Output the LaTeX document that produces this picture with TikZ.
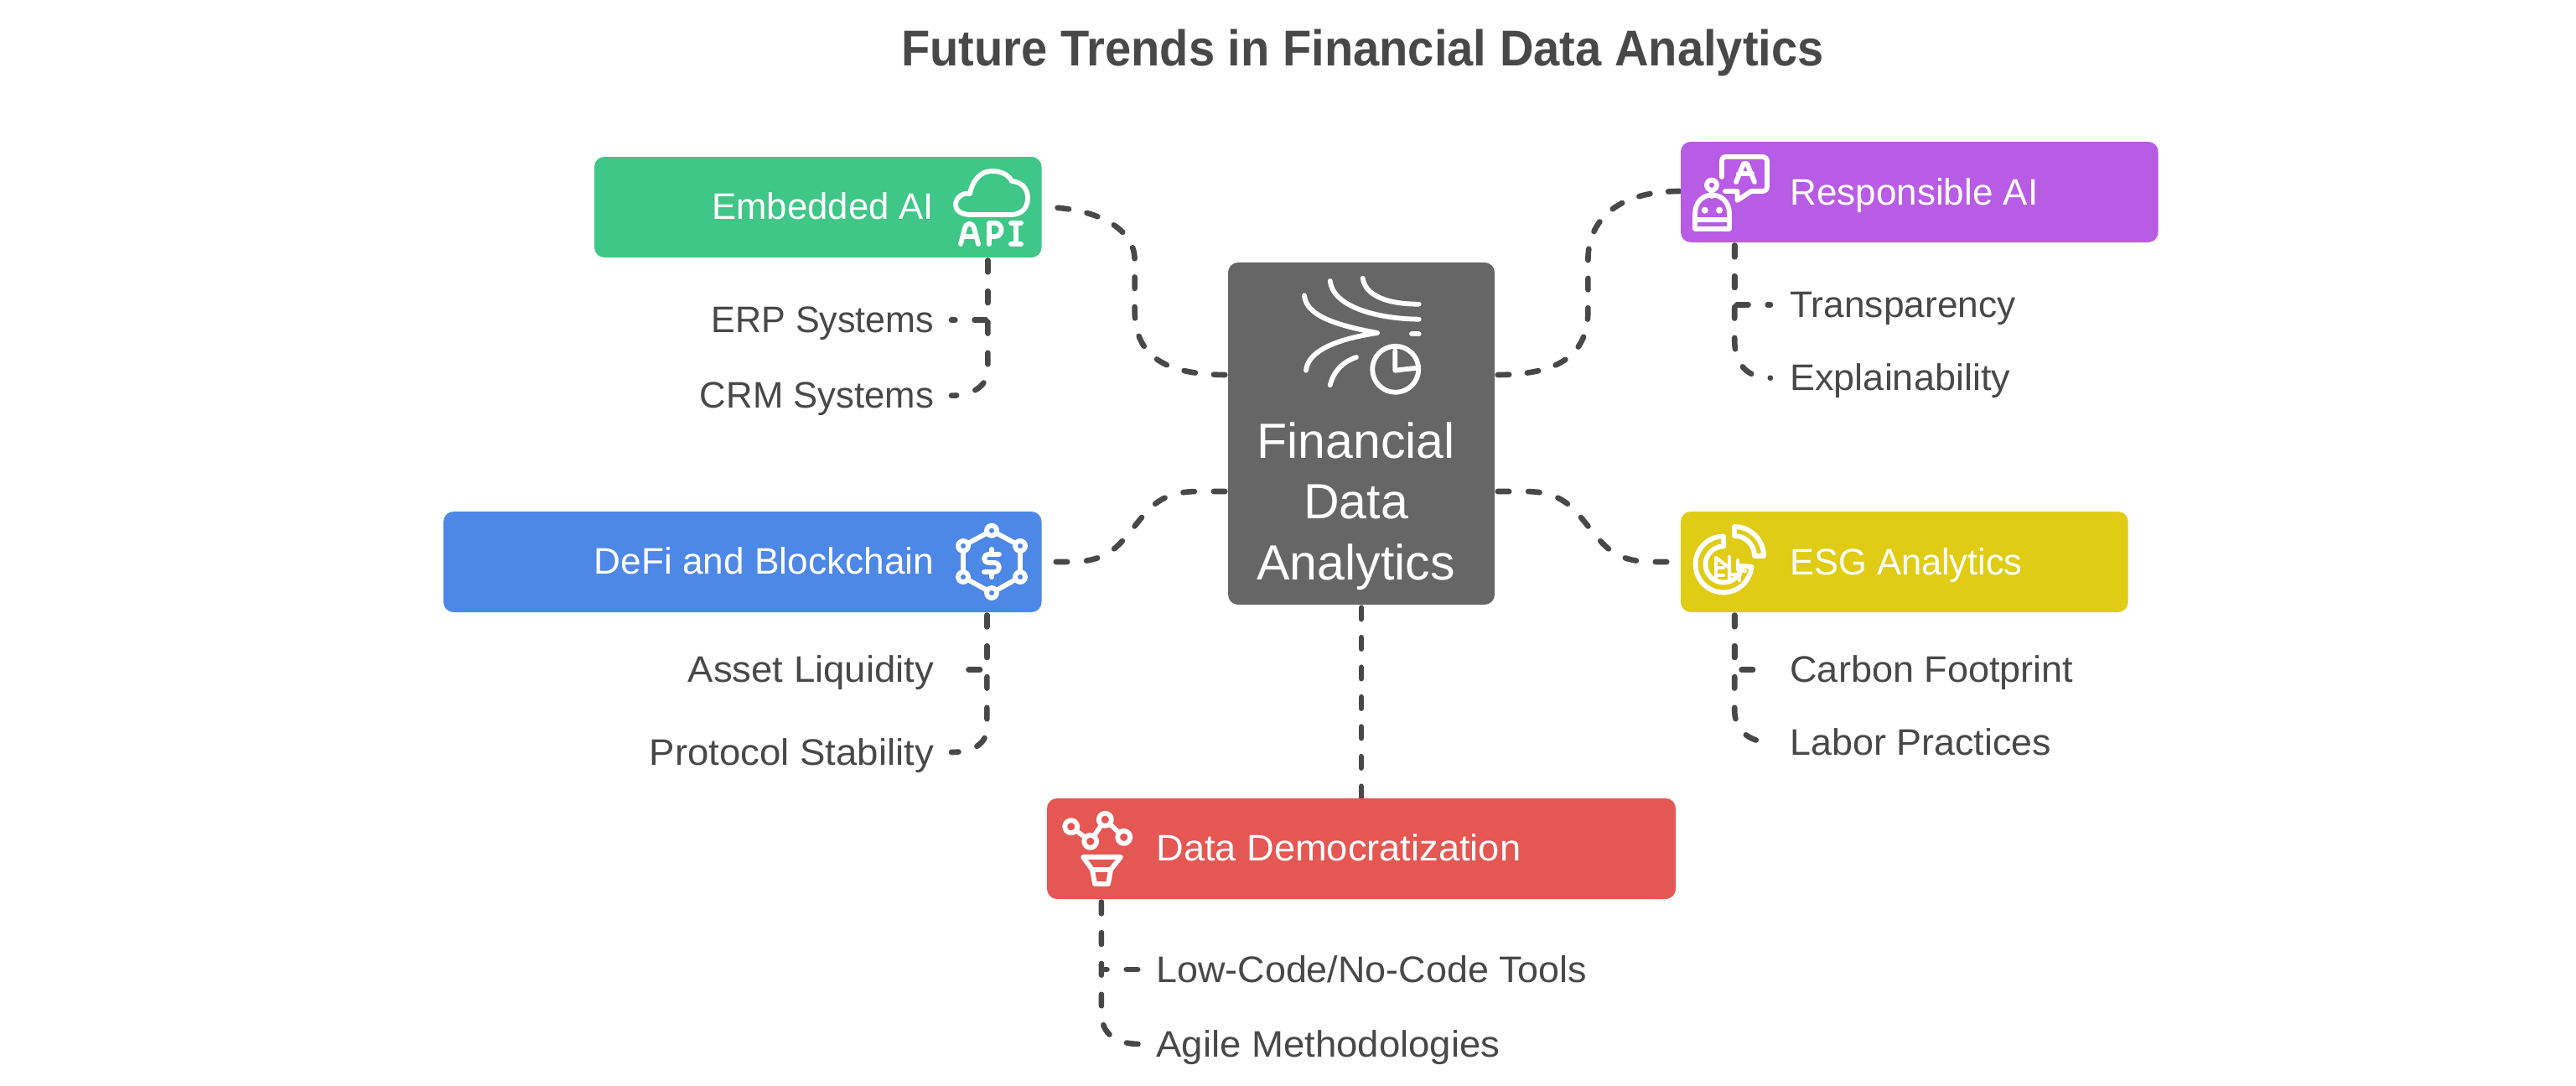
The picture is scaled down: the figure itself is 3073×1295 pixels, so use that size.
\documentclass[tikz,border=0pt]{standalone}
\usepackage{fontspec}
\setmainfont{Liberation Sans}
\newfontfamily\titlefont[FakeStretch=0.935]{Liberation Sans}
\usetikzlibrary{calc}
\pgfdeclarelayer{under}
\pgfsetlayers{under,main}
\newcommand\sx[2]{\scalebox{#1}[1]{#2}}
\definecolor{ink}{HTML}{484848}
\definecolor{cgreen}{HTML}{3EC786}
\definecolor{cblue}{HTML}{4E88E7}
\definecolor{cred}{HTML}{E55753}
\definecolor{cyellow}{HTML}{E0CC15}
\definecolor{cpurple}{HTML}{B95CE5}
\definecolor{cgray}{HTML}{666666}
\tikzset{
  bx/.style={rectangle,rounded corners=6pt,inner sep=0pt,fill=#1,minimum height=60pt},
  lab/.style={inner sep=0pt,text=white,font=\fontsize{22}{26}\selectfont},
  sub/.style={inner sep=0pt,text=ink,font=\fontsize{22}{26}\selectfont},
  big/.style={inner sep=0pt,text=white,font=\fontsize{29.5}{34}\selectfont},
  conn/.style 2 args={draw=ink,line width=3.3pt,line cap=round,dash pattern=on 6.75pt off #1pt,dash phase=#2pt},
  ico/.style={draw=white,line width=2.9pt,line cap=round,line join=round},
}
\begin{document}
\begin{tikzpicture}[x=0.5pt,y=-0.5pt]
\useasboundingbox (0,0) rectangle (3073,1295);
\begin{pgfonlayer}{under}
\fill[white] (0,0) rectangle (3073,1295);
\end{pgfonlayer}
\node[bx=cgray,minimum width=159pt,minimum height=204pt] (center) at (1624,517) {};
\node[bx=cgreen,minimum width=266.75pt] (embedded) at (975.75,247) {};
\node[bx=cblue,minimum width=356.75pt] (defi) at (885.75,670) {};
\node[bx=cpurple,minimum width=284.75pt] (responsible) at (2289.75,229) {};
\node[bx=cyellow,minimum width=266.8pt] (esg) at (2271.8,670) {};
\node[bx=cred,minimum width=375pt] (data) at (1624,1012) {};
\node[inner sep=0pt,text=ink,font=\fontsize{30}{34}\selectfont\titlefont\bfseries,anchor=base] (title) at (1625.5,79) {Future Trends in Financial Data Analytics};
\node[big,anchor=base] (t1) at (1617.5,546.7) {Financial};
\node[big,anchor=base] (t2) at (1617.5,618.5) {Data};
\node[big,anchor=base] (t3) at (1617.5,691) {Analytics};
\node[lab,anchor=base east] (lemb) at (1114.5,261.7) {\sx{.993}{Embedded AI}};
\node[lab,anchor=base east] (ldefi) at (1114.5,684) {\sx{1.005}{DeFi and Blockchain}};
\node[lab,anchor=base west] (lresp) at (2135,244) {Responsible AI};
\node[lab,anchor=base west] (lesg) at (2135,685) {\sx{.986}{ESG Analytics}};
\node[lab,anchor=base west] (ldata) at (1379,1026.7) {\sx{1.028}{Data Democratization}};
\node[sub,anchor=base east] (erp) at (1114.5,396.7) {\sx{.978}{ERP Systems}};
\node[sub,anchor=base east] (crm) at (1114.5,486.7) {\sx{.993}{CRM Systems}};
\node[sub,anchor=base east] (asset) at (1114.5,813.7) {\sx{1.034}{Asset Liquidity}};
\node[sub,anchor=base east] (proto) at (1114.5,912) {\sx{1.036}{Protocol Stability}};
\node[sub,anchor=base west] (transp) at (2135,378.3) {\sx{1.007}{Transparency}};
\node[sub,anchor=base west] (expl) at (2135,465.7) {\sx{1.023}{Explainability}};
\node[sub,anchor=base west] (carbon) at (2135,813.7) {\sx{1.024}{Carbon Footprint}};
\node[sub,anchor=base west] (labor) at (2135,900) {\sx{1.019}{Labor Practices}};
\node[sub,anchor=base west] (lowc) at (1379,1171) {\sx{1.02}{Low-Code/No-Code Tools}};
\node[sub,anchor=base west] (agile) at (1379,1260) {\sx{1.035}{Agile Methodologies}};
\begin{pgfonlayer}{under}
% main connectors
\draw[conn={11}{16.1}] ($(center.west)+(0,-70)$) .. controls +(-67,0) and +(0,60) .. ++(-111,-77) -- ++(0,-60) .. controls +(0,-40) and +(60,0) .. (embedded.east);
\draw[conn={11.45}{16.55}] ($(center.west)+(0,69)$) -- ++(-35,0) .. controls +(-45,0) and +(18.5,-23) .. ++(-76.5,42) .. controls +(-18.5,23) and +(45,0) .. ++(-76.5,42) -- (defi.east);
\draw[conn={10.85}{15.95}] ($(center.east)+(0,-70)$) .. controls +(67,0) and +(0,60) .. ++(111,-77) -- ++(0,-60) .. controls +(0,-48) and +(-75,0) .. ($(responsible.west)+(0,-1)$);
\draw[conn={11.45}{16.55}] ($(center.east)+(0,69)$) -- ++(35,0) .. controls +(45,0) and +(-18.5,-23) .. ++(76.5,42) .. controls +(18.5,23) and +(-45,0) .. ++(76.5,42) -- (esg.west);
\draw[conn={11}{16.1}] (center.south) -- (data.north);
% branches
\draw[conn={11.6}{16.7}] ($(embedded.south east)+(-64.5,0)$) |- ($(erp.base east)+(20.5,-15)$);
\draw[conn={11.6}{16.7}] ($(embedded.south east)+(-64.5,0)$) -- ++(0,133) .. controls +(0,20) and +(25,0) .. ($(crm.base east)+(20.5,-15)$);
\draw[conn={11.6}{16.7}] ($(defi.south east)+(-65.5,0)$) |- ($(asset.base east)+(20.5,-15)$);
\draw[conn={11.6}{16.7}] ($(defi.south east)+(-65.5,0)$) -- ++(0,137) .. controls +(0,20) and +(25,0) .. ($(proto.base east)+(20.5,-15)$);
\draw[conn={11.6}{16.7}] ($(responsible.south west)+(64.6,0)$) |- ($(transp.base west)+(-23,-15)$);
\draw[conn={11.6}{16.7}] ($(responsible.south west)+(64.6,0)$) -- ++(0,116) .. controls +(0,30) and +(-27,0) .. ($(expl.base west)+(-23,-15)$);
\draw[conn={11.6}{16.7}] ($(esg.south west)+(64.6,0)$) |- ($(carbon.base west)+(-23,-15)$);
\draw[conn={11.6}{16.7}] ($(esg.south west)+(64.6,0)$) -- ++(0,116) .. controls +(0,25) and +(-25,0) .. ($(labor.base west)+(-23,-15)$);
\draw[conn={11.6}{16.7}] ($(data.south west)+(65.3,0)$) |- ($(lowc.base west)+(-19,-15)$);
\draw[conn={11.6}{16.7}] ($(data.south west)+(65.3,0)$) -- ++(0,135) .. controls +(0,25) and +(-30,0) .. ($(agile.base west)+(-19,-15)$);
\end{pgfonlayer}
% center icon
\begin{scope}[ico]
\draw (1556,352.3) .. controls (1558,380) and (1607,390) .. (1643,397) .. controls (1590,405) and (1560,420) .. (1558,441.7);
\draw (1586.7,335) .. controls (1590,365) and (1640,380) .. (1692.7,380.7);
\draw (1625.7,331.7) .. controls (1628,350) and (1650,362.7) .. (1692.7,362.7);
\draw (1684,398.3) -- (1692.7,398.3);
\draw (1618,426) .. controls (1600,432) and (1590,445) .. (1586.7,459.3);
\draw (1664.7,440.3) circle[radius=27.5];
\draw (1664.3,418.3) -- (1664.3,441.7) -- (1688,439);
\end{scope}
% cloud API
\begin{scope}[ico]
\draw (1158,256) -- (1205,256) .. controls (1220,256) and (1226,247) .. (1226,236) .. controls (1226,224) and (1218,217) .. (1207,216) .. controls (1203,208) and (1194,204) .. (1183,204) .. controls (1170,204) and (1160,215) .. (1157,231) .. controls (1147,229) and (1140,237) .. (1140,244) .. controls (1140,252) and (1148,256) .. (1158,256);
\draw (1146,291) -- (1151,272) .. controls (1153,265) and (1160,265) .. (1162,272) -- (1167,291) (1149,282) -- (1164,282);
\draw (1180,291) -- (1180,266) -- (1187,266) .. controls (1197,266) and (1197,282) .. (1187,282) -- (1180,282);
\draw (1206,266) -- (1218,266) (1212,266) -- (1212,291) (1206,291) -- (1218,291);
\end{scope}
% hexagon dollar
\begin{scope}[ico]
\draw (1183,632.7) -- (1217,651) -- (1217,688) -- (1183,707) -- (1149,688) -- (1149,651) -- cycle;
\foreach \p in {(1183,632.7),(1217,651),(1217,688),(1183,707),(1149,688),(1149,651)}
  \draw[fill=cblue] \p circle[radius=6];
\draw (1192,661) -- (1180,661) .. controls (1172,661) and (1172,671) .. (1180,671) -- (1186,671) .. controls (1194,671) and (1194,682) .. (1186,682) -- (1174,682);
\draw (1183,655) -- (1183,661) (1183,682) -- (1183,688);
\end{scope}
% robot + speech
\begin{scope}[ico]
\draw (2054,211) -- (2054,193) .. controls (2054,189) and (2055,187) .. (2059,187) -- (2102,187) .. controls (2106,187) and (2108,189) .. (2108,193) -- (2108,222) .. controls (2108,226) and (2106,228) .. (2102,228) -- (2089,228) -- (2072.4,239) -- (2072.4,228) -- (2058,228);
\draw (2071,217) -- (2080,195) -- (2084,195) -- (2093,217) (2074,207) -- (2090,207);
\draw (2022,273) -- (2022,255) .. controls (2022,225) and (2063,225) .. (2063,255) -- (2063,273) -- cycle;
\draw (2022,262) -- (2063,262);
\fill[white] (2033.7,250.7) circle[radius=4] (2051,250.7) circle[radius=4];
\draw (2042,220.7) circle[radius=6];
\draw (2042,227) -- (2042,234);
\end{scope}
% ESG
\begin{scope}[ico,shift={(2056,673)}]
\draw plot[domain=270:5,samples=30] ({33.5*cos(\x)},{33.5*sin(\x)}) -- plot[domain=5:270,samples=30] ({21.5*cos(\x)},{21.5*sin(\x)}) -- cycle;
\end{scope}
\begin{scope}[ico,shift={(2069,663)}]
\draw plot[domain=-90:0,samples=15] ({35*cos(\x)},{35*sin(\x)}) -- plot[domain=0:-90,samples=15] ({24*cos(\x)},{24*sin(\x)}) -- cycle;
\end{scope}
\begin{scope}[draw=white,line width=2pt,line cap=round,line join=round]
\draw (2047,692) -- (2047,665) -- (2063,677) -- (2063,694);
\draw (2047,677) -- (2056,677) (2047,686) -- (2056,686);
\draw (2063,664) -- (2063,677) (2063,685) -- (2076,685) (2075,685) -- (2075,692);
\draw (2073,668) -- (2073,680) -- (2082,681);
\end{scope}
% data icon
\begin{scope}[ico]
\draw (1277.7,985.7) -- (1300.7,1003.3) -- (1318.3,977.3) -- (1340.7,998.3);
\foreach \p in {(1277.7,985.7),(1318.3,977.3),(1300.7,1003.3),(1340.7,998.3)}
  \draw[fill=cred] \p circle[radius=7.5];
\draw (1292,1022) -- (1337,1022) -- (1325,1037) -- (1322,1054) -- (1306,1054) -- (1303,1037) -- cycle;
\draw (1303,1037) -- (1325,1037);
\end{scope}
\end{tikzpicture}
\end{document}
